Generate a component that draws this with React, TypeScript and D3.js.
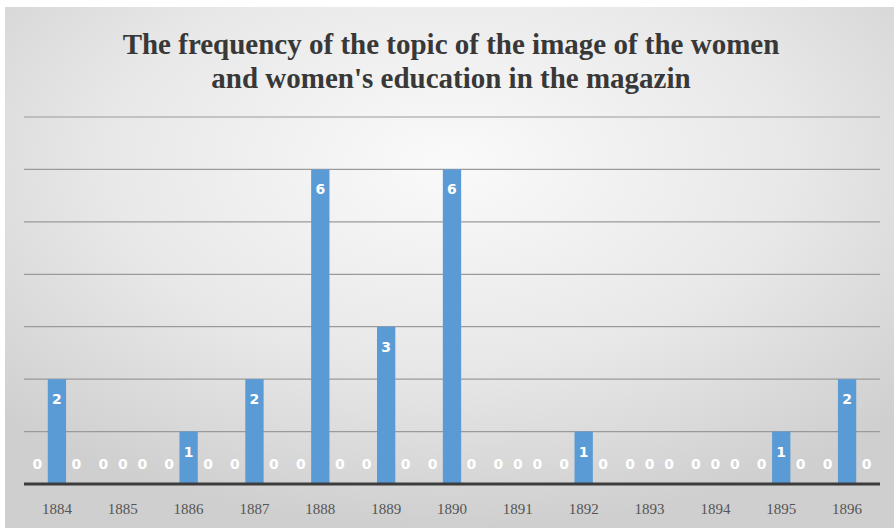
import React from 'react';
import * as d3 from 'd3';

// chart data
const years = ['1884', '1885', '1886', '1887', '1888', '1889', '1890', '1891', '1892', '1893', '1894', '1895', '1896'];
const seriesNames = ['s1', 's2', 's3'];
const seriesA = [0, 0, 0, 0, 0, 0, 0, 0, 0, 0, 0, 0, 0];
const seriesB = [2, 0, 1, 2, 6, 3, 6, 0, 1, 0, 0, 1, 2];
const seriesC = [0, 0, 0, 0, 0, 0, 0, 0, 0, 0, 0, 0, 0];
const gridValues = [1, 2, 3, 4, 5, 6, 7];
const titleLines = [
  'The frequency of the topic of the image of the women',
  "and women's education in the magazin",
];

const W = 894;
const H = 528;

const App: React.FC = () => {
  const allSeries = [seriesA, seriesB, seriesC];

  // scales
  const x0 = d3.scaleBand<string>()
    .domain(years)
    .range([24, 880])
    .paddingInner(0.13)
    .paddingOuter(0.065);

  const x1 = d3.scaleBand<string>()
    .domain(seriesNames)
    .range([0, x0.bandwidth()])
    .paddingInner(0.06);

  const y = d3.scaleLinear()
    .domain([0, 7])
    .range([484, 117]);

  return (
    <svg width={W} height={H} style={{ position: 'absolute', left: 0, top: 0 }}>
      <defs>
        <radialGradient id="bg" cx="50%" cy="30%" r="70%">
          <stop offset="0%" stopColor="#fafafa" />
          <stop offset="55%" stopColor="#e8e8e8" />
          <stop offset="100%" stopColor="#cfcfcf" />
        </radialGradient>
      </defs>
      <rect x={0} y={0} width={W} height={H} fill="#ffffff" />
      <rect x={5} y={7} width={W - 5} height={H - 7} fill="url(#bg)" />

      {/* title */}
      {titleLines.map((t, i) => (
        <text
          key={i}
          x={451}
          y={54 + i * 34}
          textAnchor="middle"
          fontFamily="'Liberation Serif', 'DejaVu Serif', serif"
          fontWeight="bold"
          fontSize={29}
          fill="#383838"
        >
          {t}
        </text>
      ))}

      {/* grid lines */}
      {gridValues.map(v => (
        <line
          key={v}
          x1={24}
          x2={880}
          y1={y(v)}
          y2={y(v)}
          stroke="#9a9a9a"
          strokeWidth={1.2}
        />
      ))}

      {/* bars */}
      {years.map((yr, i) => (
        <g key={yr} transform={`translate(${x0(yr)},0)`}>
          {allSeries.map((s, k) => {
            const v = s[i];
            const bx = x1(seriesNames[k]) as number;
            const bw = x1.bandwidth();
            return (
              <g key={k}>
                {v > 0 && (
                  <rect x={bx} y={y(v)} width={bw} height={y(0) - y(v)} fill="#5b9bd5" />
                )}
                <text
                  x={bx + bw / 2}
                  y={v > 0 ? y(v) + 25 : y(0) - 15}
                  textAnchor="middle"
                  fontFamily="'DejaVu Sans', sans-serif"
                  fontWeight="bold"
                  fontSize={14}
                  fill="#ffffff"
                >
                  {v}
                </text>
              </g>
            );
          })}
        </g>
      ))}

      {/* baseline */}
      <line x1={24} x2={880} y1={y(0)} y2={y(0)} stroke="#3c3c3c" strokeWidth={3} />

      {/* x tick labels */}
      {years.map(yr => (
        <text
          key={yr}
          x={(x0(yr) as number) + x0.bandwidth() / 2}
          y={514}
          textAnchor="middle"
          fontFamily="'Liberation Serif', 'DejaVu Serif', serif"
          fontSize={15}
          fill="#555555"
        >
          {yr}
        </text>
      ))}
    </svg>
  );
};

export default App;
